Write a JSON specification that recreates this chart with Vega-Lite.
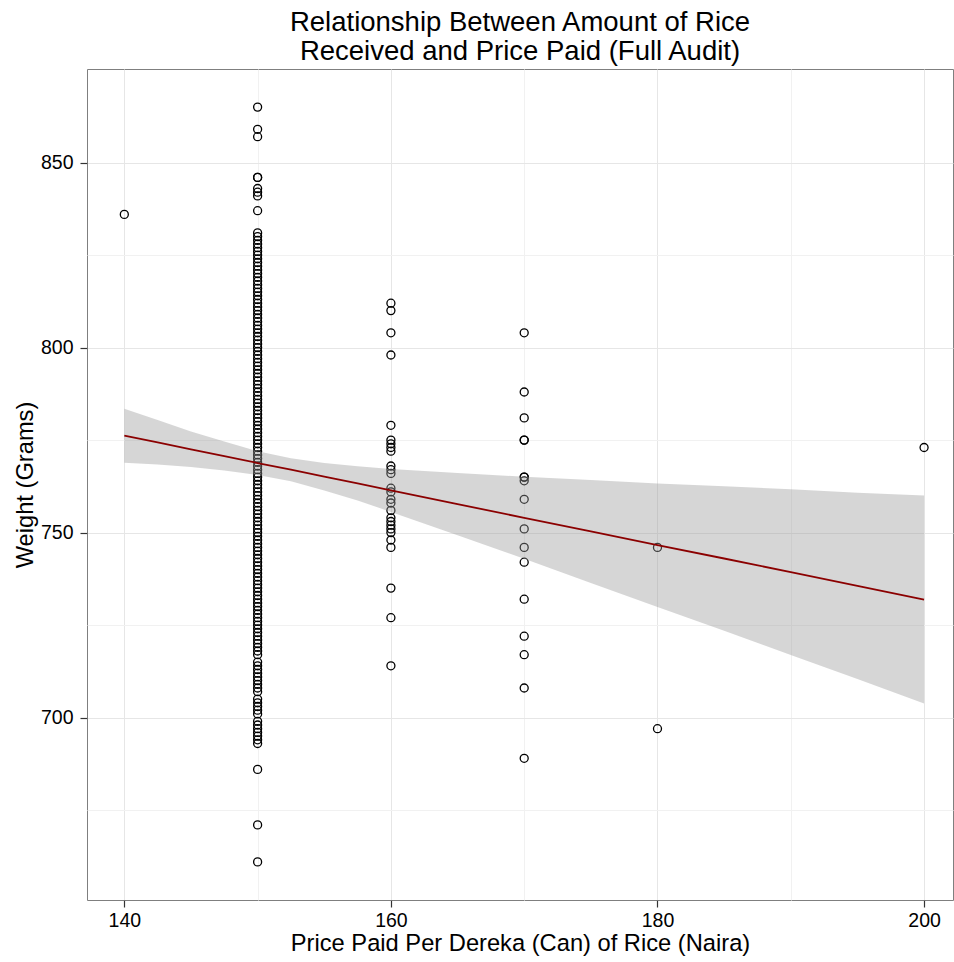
{
  "$schema": "https://vega.github.io/schema/vega-lite/v6.json",
  "width": 866,
  "height": 831,
  "autosize": {"type": "none"},
  "padding": {"left": 87, "top": 69, "right": 1, "bottom": 62},
  "background": "white",
  "title": {
    "text": ["Relationship Between Amount of Rice", "Received and Price Paid (Full Audit)"],
    "fontSize": 27.5,
    "font": "Liberation Sans",
    "fontWeight": "normal",
    "color": "black",
    "anchor": "middle",
    "frame": "group",
    "lineHeight": 29,
    "offset": 4
  },
  "config": {
    "font": "Liberation Sans",
    "view": {"stroke": "#7f7f7f", "strokeWidth": 1},
    "axis": {
      "domain": false,
      "labelFont": "Liberation Sans",
      "labelFontSize": 19.5,
      "labelColor": "black",
      "titleFont": "Liberation Sans",
      "titleFontSize": 23.7,
      "titleFontWeight": "normal",
      "titleColor": "black",
      "tickSize": 7,
      "tickWidth": 1.2,
      "gridWidth": 1
    }
  },
  "datasets": {
    "pts": [
      {"p":140,"w":836},
      {"p":150,"w":865},{"p":150,"w":859},{"p":150,"w":857},{"p":150,"w":846},{"p":150,"w":846},{"p":150,"w":843},{"p":150,"w":842},{"p":150,"w":841},{"p":150,"w":837},{"p":150,"w":831},{"p":150,"w":830},{"p":150,"w":829},{"p":150,"w":828},{"p":150,"w":827},{"p":150,"w":826},{"p":150,"w":825},
      {"p":150,"w":824},{"p":150,"w":823},{"p":150,"w":822},{"p":150,"w":821},{"p":150,"w":820},{"p":150,"w":819},{"p":150,"w":818},{"p":150,"w":817},{"p":150,"w":816},{"p":150,"w":815},{"p":150,"w":814},{"p":150,"w":813},{"p":150,"w":812},{"p":150,"w":811},{"p":150,"w":810},{"p":150,"w":809},{"p":150,"w":808},{"p":150,"w":807},{"p":150,"w":806},{"p":150,"w":805},{"p":150,"w":804},{"p":150,"w":803},{"p":150,"w":802},{"p":150,"w":801},{"p":150,"w":800},{"p":150,"w":799},{"p":150,"w":798},{"p":150,"w":797},{"p":150,"w":796},{"p":150,"w":795},{"p":150,"w":794},{"p":150,"w":793},{"p":150,"w":792},{"p":150,"w":791},{"p":150,"w":790},{"p":150,"w":789},{"p":150,"w":788},{"p":150,"w":787},{"p":150,"w":786},{"p":150,"w":785},{"p":150,"w":784},{"p":150,"w":783},{"p":150,"w":782},{"p":150,"w":781},{"p":150,"w":780},{"p":150,"w":779},{"p":150,"w":778},{"p":150,"w":777},{"p":150,"w":776},{"p":150,"w":775},{"p":150,"w":774},{"p":150,"w":773},{"p":150,"w":772},{"p":150,"w":771},{"p":150,"w":770},{"p":150,"w":769},{"p":150,"w":768},{"p":150,"w":767},{"p":150,"w":766},{"p":150,"w":765},{"p":150,"w":764},{"p":150,"w":763},{"p":150,"w":762},{"p":150,"w":761},{"p":150,"w":760},{"p":150,"w":759},{"p":150,"w":758},{"p":150,"w":757},{"p":150,"w":756},{"p":150,"w":755},{"p":150,"w":754},{"p":150,"w":753},{"p":150,"w":752},{"p":150,"w":751},{"p":150,"w":750},{"p":150,"w":749},{"p":150,"w":748},{"p":150,"w":747},{"p":150,"w":746},{"p":150,"w":745},{"p":150,"w":744},{"p":150,"w":743},{"p":150,"w":742},{"p":150,"w":741},{"p":150,"w":740},{"p":150,"w":739},{"p":150,"w":738},{"p":150,"w":737},{"p":150,"w":736},{"p":150,"w":735},{"p":150,"w":734},{"p":150,"w":733},{"p":150,"w":732},{"p":150,"w":731},{"p":150,"w":730},{"p":150,"w":729},{"p":150,"w":728},{"p":150,"w":727},{"p":150,"w":726},{"p":150,"w":725},{"p":150,"w":724},{"p":150,"w":723},{"p":150,"w":722},{"p":150,"w":721},{"p":150,"w":720},{"p":150,"w":719},{"p":150,"w":718},{"p":150,"w":717},
      {"p":150,"w":715},{"p":150,"w":714},{"p":150,"w":713},{"p":150,"w":712},{"p":150,"w":711},{"p":150,"w":710},{"p":150,"w":709},{"p":150,"w":708},{"p":150,"w":707},{"p":150,"w":705},{"p":150,"w":704},{"p":150,"w":703},{"p":150,"w":702},{"p":150,"w":701},{"p":150,"w":699},{"p":150,"w":698},{"p":150,"w":697},{"p":150,"w":696},{"p":150,"w":695},{"p":150,"w":694},{"p":150,"w":693},{"p":150,"w":686},{"p":150,"w":671},{"p":150,"w":661},
      {"p":160,"w":812},{"p":160,"w":810},{"p":160,"w":804},{"p":160,"w":798},{"p":160,"w":779},{"p":160,"w":775},{"p":160,"w":774},{"p":160,"w":773},{"p":160,"w":772},{"p":160,"w":768},{"p":160,"w":767},{"p":160,"w":766},{"p":160,"w":762},{"p":160,"w":761},{"p":160,"w":759},{"p":160,"w":758},{"p":160,"w":756},{"p":160,"w":754},{"p":160,"w":753},{"p":160,"w":752},{"p":160,"w":751},{"p":160,"w":750},{"p":160,"w":748},{"p":160,"w":746},{"p":160,"w":735},{"p":160,"w":727},{"p":160,"w":714},
      {"p":170,"w":804},{"p":170,"w":788},{"p":170,"w":781},{"p":170,"w":775},{"p":170,"w":775},{"p":170,"w":765},{"p":170,"w":765},{"p":170,"w":764},{"p":170,"w":759},{"p":170,"w":751},{"p":170,"w":746},{"p":170,"w":742},{"p":170,"w":732},{"p":170,"w":722},{"p":170,"w":717},{"p":170,"w":708},{"p":170,"w":689},
      {"p":180,"w":746},{"p":180,"w":697},
      {"p":200,"w":773}
    ],
    "fit": [
      {"p":140,"fit":776.2,"lo":768.9,"hi":783.5},
      {"p":142.5,"fit":774.4,"lo":768.4,"hi":780.4},
      {"p":145,"fit":772.5,"lo":767.7,"hi":777.3},
      {"p":147.5,"fit":770.7,"lo":766.8,"hi":774.6},
      {"p":150,"fit":768.8,"lo":765.6,"hi":772.0},
      {"p":152.5,"fit":767.0,"lo":763.9,"hi":770.1},
      {"p":155,"fit":765.1,"lo":761.4,"hi":768.8},
      {"p":157.5,"fit":763.3,"lo":758.7,"hi":767.9},
      {"p":160,"fit":761.4,"lo":755.6,"hi":767.2},
      {"p":165,"fit":757.7,"lo":749.3,"hi":766.1},
      {"p":170,"fit":754.0,"lo":742.9,"hi":765.1},
      {"p":175,"fit":750.3,"lo":736.4,"hi":764.2},
      {"p":180,"fit":746.6,"lo":729.9,"hi":763.3},
      {"p":185,"fit":743.0,"lo":723.5,"hi":762.5},
      {"p":190,"fit":739.3,"lo":716.9,"hi":761.7},
      {"p":195,"fit":735.6,"lo":710.4,"hi":760.8},
      {"p":200,"fit":731.9,"lo":703.8,"hi":760.0}
    ]
  },
  "encoding": {
    "x": {
      "field": "p",
      "type": "quantitative",
      "scale": {"domain": [137.2, 202.17], "nice": false, "zero": false},
      "axis": {
        "title": "Price Paid Per Dereka (Can) of Rice (Naira)",
        "values": [140, 150, 160, 170, 180, 190, 200],
        "format": "d",
        "labelExpr": "datum.value % 20 === 0 ? datum.label : ''",
        "tickColor": {"condition": {"test": "datum.value % 20 !== 0", "value": "transparent"}, "value": "#333333"},
        "gridColor": {"condition": {"test": "datum.value % 20 === 0", "value": "#e6e6e6"}, "value": "#f1f1f1"},
        "labelPadding": 4,
        "titlePadding": 2,
        "labelFlush": false
      }
    }
  },
  "layer": [
    {
      "data": {"name": "pts"},
      "mark": {"type": "point", "shape": "circle", "filled": false, "stroke": "black", "strokeWidth": 1.3, "size": 64, "opacity": 1},
      "encoding": {
        "y": {
          "field": "w",
          "type": "quantitative",
          "scale": {"domain": [650.7, 875.3], "nice": false, "zero": false},
          "axis": {
            "title": "Weight (Grams)",
            "values": [675, 700, 725, 750, 775, 800, 825, 850],
            "format": "d",
            "labelExpr": "datum.value % 50 === 0 ? datum.label : ''",
            "tickColor": {"condition": {"test": "datum.value % 50 !== 0", "value": "transparent"}, "value": "#333333"},
            "gridColor": {"condition": {"test": "datum.value % 50 === 0", "value": "#e6e6e6"}, "value": "#f1f1f1"},
            "labelPadding": 7,
            "titlePadding": 3,
            "labelFlush": false
          }
        }
      }
    },
    {
      "data": {"name": "fit"},
      "mark": {"type": "area", "fill": "#999999", "opacity": 0.4},
      "encoding": {
        "y": {
          "field": "lo",
          "type": "quantitative",
          "title": "Weight (Grams)",
          "axis": {
            "title": "Weight (Grams)",
            "values": [675, 700, 725, 750, 775, 800, 825, 850],
            "format": "d",
            "labelExpr": "datum.value % 50 === 0 ? datum.label : ''",
            "tickColor": {"condition": {"test": "datum.value % 50 !== 0", "value": "transparent"}, "value": "#333333"},
            "gridColor": {"condition": {"test": "datum.value % 50 === 0", "value": "#e6e6e6"}, "value": "#f1f1f1"},
            "labelPadding": 7,
            "titlePadding": 3,
            "labelFlush": false
          }
        },
        "y2": {"field": "hi"}
      }
    },
    {
      "data": {"name": "fit"},
      "mark": {"type": "line", "stroke": "#8b0000", "strokeWidth": 1.8},
      "encoding": {
        "y": {
          "field": "fit",
          "type": "quantitative",
          "title": "Weight (Grams)",
          "axis": {
            "title": "Weight (Grams)",
            "values": [675, 700, 725, 750, 775, 800, 825, 850],
            "format": "d",
            "labelExpr": "datum.value % 50 === 0 ? datum.label : ''",
            "tickColor": {"condition": {"test": "datum.value % 50 !== 0", "value": "transparent"}, "value": "#333333"},
            "gridColor": {"condition": {"test": "datum.value % 50 === 0", "value": "#e6e6e6"}, "value": "#f1f1f1"},
            "labelPadding": 7,
            "titlePadding": 3,
            "labelFlush": false
          }
        }
      }
    }
  ]
}
